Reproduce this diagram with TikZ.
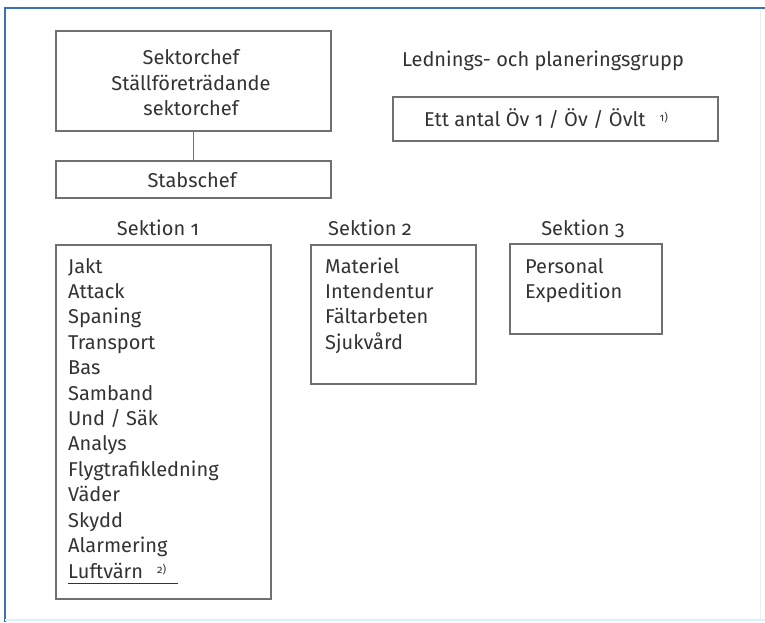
\documentclass[tikz,border=0pt]{standalone}
\usepackage{fontspec}
\setmainfont{Fira Sans}[Numbers=OldStyle]
\definecolor{boxgray}{HTML}{707070}
\definecolor{txt}{HTML}{333333}
\definecolor{frameblue}{HTML}{3F6FB5}
\begin{document}
\begin{tikzpicture}[x=1pt,y=-1pt,
  boxst/.style={draw=boxgray, line width=2.2pt, fill=white},
  label/.style={text=txt, font=\fontsize{20}{20}\selectfont, inner sep=0pt},
  item/.style={label, anchor=base west},
  conn/.style={draw=boxgray, line width=1pt}]
\useasboundingbox (0,0) rectangle (765,622);
% outer frame
\draw[frameblue, line width=2.5pt] (5,622) -- (5,8) -- (765,8);
\draw[cyan!15, line width=2pt] (5,620) -- (765,620);
\draw[gray!15, line width=1pt] (760,10) -- (760,620);
% boxes
\node[boxst, minimum width=275pt, minimum height=100pt, anchor=north west, inner sep=0pt] (chef) at (55,30) {};
\node[boxst, minimum width=275pt, minimum height=37pt, anchor=north west, inner sep=0pt] (stab) at (55,160) {};
\node[boxst, minimum width=325pt, minimum height=44pt, anchor=north west, inner sep=0pt] (ett) at (392,96) {};
\node[boxst, minimum width=215pt, minimum height=354pt, anchor=north west, inner sep=0pt] (sek1) at (55,244) {};
\node[boxst, minimum width=165pt, minimum height=139pt, anchor=north west, inner sep=0pt] (sek2) at (310,244) {};
\node[boxst, minimum width=152pt, minimum height=90pt, anchor=north west, inner sep=0pt] (sek3) at (509,243) {};
\draw[conn] (chef.south) -- (stab.north);
% texts
\node[label, anchor=base] (t1) at (191,64) {Sektorchef};
\node[label, anchor=base] (t2) at (191,90) {Ställföreträdande};
\node[label, anchor=base] (t3) at (191,115) {sektorchef};
\node[label, anchor=base] (stabt) at (192,187) {Stabschef};
\node[label, anchor=base] (led) at (543,66) {Lednings- och planeringsgrupp};
\node[label, anchor=base] (ettt) at (546,126) {Ett antal Öv 1 / Öv / Övlt\hspace{14pt}\raisebox{5pt}{\fontsize{11}{11}\selectfont 1)}};
\node[label, anchor=base] (h1) at (158,235) {Sektion 1};
\node[label, anchor=base] (h2) at (370,235) {Sektion 2};
\node[label, anchor=base] (h3) at (583,235) {Sektion 3};
\foreach \t [count=\i] in {Jakt,Attack,Spaning,Transport,Bas,Samband,Und / Säk,Analys,Flygtrafikledning,Väder,Skydd,Alarmering}
  \node[item] (a\i) at (68,{273+25.4*(\i-1)}) {\t};
\node[item] (a13) at (68,578) {Luftvärn\hspace{14pt}\raisebox{5pt}{\fontsize{11}{11}\selectfont 2)}};
\coordinate (ul1) at (68,583);
\coordinate (ul2) at (178,583);
\draw[txt, line width=1pt] (ul1) -- (ul2);
\foreach \t [count=\i] in {Materiel,Intendentur,Fältarbeten,Sjukvård}
  \node[item] (b\i) at (325,{273+25.4*(\i-1)}) {\t};
\foreach \t [count=\i] in {Personal,Expedition}
  \node[item] (c\i) at (525,{273+25.4*(\i-1)}) {\t};
\end{tikzpicture}
\end{document}
